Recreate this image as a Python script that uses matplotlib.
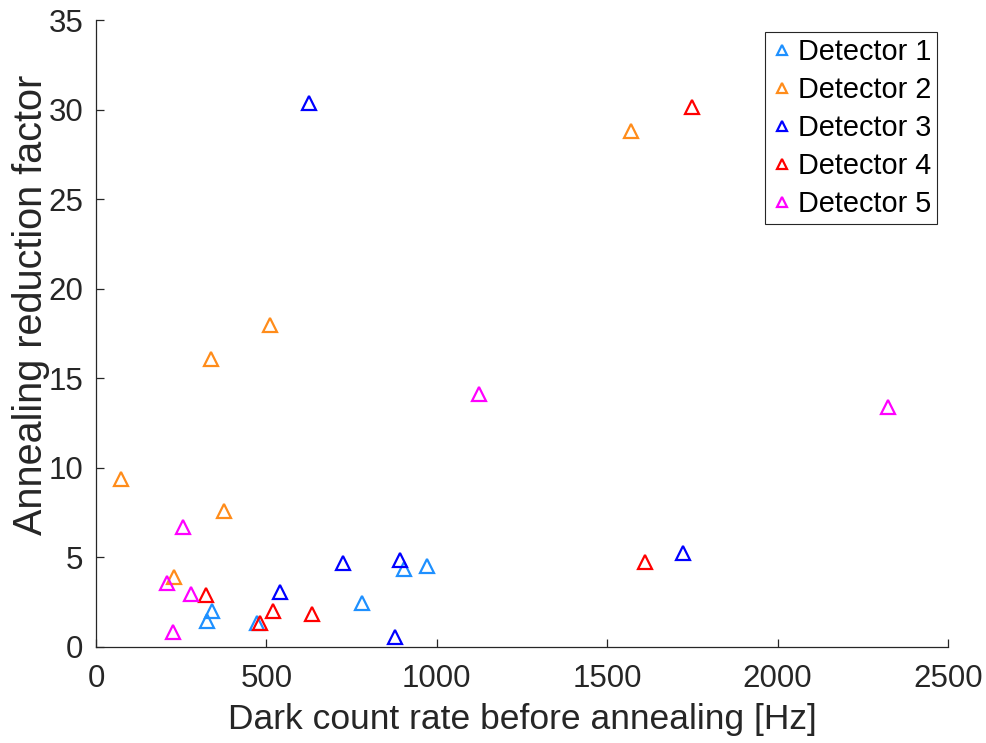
import matplotlib
matplotlib.use("Agg")
import matplotlib.pyplot as plt

plt.rcParams['font.family'] = ['Liberation Sans', 'DejaVu Sans']

# Dark count rate before annealing [Hz] and annealing reduction factor, per detector
det1_rate = [341, 327, 473, 780, 905, 970]
det1_factor = [2.0, 1.45, 1.35, 2.45, 4.35, 4.5]

det2_rate = [74, 376, 229, 338, 510, 1569]
det2_factor = [9.4, 7.6, 3.9, 16.1, 17.95, 28.8]

det3_rate = [626, 725, 891, 541, 877, 1723]
det3_factor = [30.35, 4.7, 4.87, 3.06, 0.58, 5.26]

det4_rate = [324, 480, 520, 634, 1612, 1749]
det4_factor = [2.93, 1.34, 2.0, 1.86, 4.77, 30.13]

det5_rate = [255, 227, 209, 278, 1125, 2323]
det5_factor = [6.7, 0.82, 3.56, 2.98, 14.13, 13.41]

labels = ['Detector 1', 'Detector 2', 'Detector 3', 'Detector 4', 'Detector 5']
colors = ['#1E90FF', '#FF8C1A', '#0000FF', '#FF0000', '#FF00FF']
series = [(det1_rate, det1_factor), (det2_rate, det2_factor),
          (det3_rate, det3_factor), (det4_rate, det4_factor),
          (det5_rate, det5_factor)]

fig = plt.figure(figsize=(9.87, 7.43), dpi=100)
ax = fig.add_axes([96 / 987, 96 / 743, 852 / 987, 627 / 743])

for (x, y), lab, c in zip(series, labels, colors):
    ax.plot(x, y, linestyle='none', marker='^', markersize=10,
            markerfacecolor='none', markeredgecolor=c, markeredgewidth=1.6,
            label=lab)

ax.set_xlim(0, 2500)
ax.set_ylim(0, 35)
ax.set_xticks([0, 500, 1000, 1500, 2000, 2500])
ax.set_yticks([0, 5, 10, 15, 20, 25, 30, 35])

axis_color = '#262626'
for side in ['top', 'right']:
    ax.spines[side].set_visible(False)
for side in ['left', 'bottom']:
    ax.spines[side].set_color(axis_color)
    ax.spines[side].set_linewidth(0.9)
ax.tick_params(direction='in', length=6, width=0.9, colors=axis_color,
               labelsize=22.5)
ax.tick_params(axis='x', pad=12)
ax.tick_params(axis='y', pad=9)

ax.set_xlabel('Dark count rate before annealing [Hz]', fontsize=25.5,
              color=axis_color, labelpad=7)
ax.set_ylabel('Annealing reduction factor', fontsize=28.5,
              color=axis_color)
ax.yaxis.set_label_coords(-0.054, 0.545)

leg = ax.legend(loc='upper right', fontsize=20.8, markerscale=0.7,
                handlelength=0.78, handletextpad=0.17, borderpad=0.2,
                borderaxespad=0, labelspacing=0.35, fancybox=False,
                framealpha=1)
leg.set_bbox_to_anchor((937 / 987, 1 - 32 / 743), transform=fig.transFigure)
leg.get_frame().set_edgecolor('#262626')
leg.get_frame().set_linewidth(0.8)
for t in leg.get_texts():
    t.set_color('black')

fig.savefig('out.png', dpi=100)
